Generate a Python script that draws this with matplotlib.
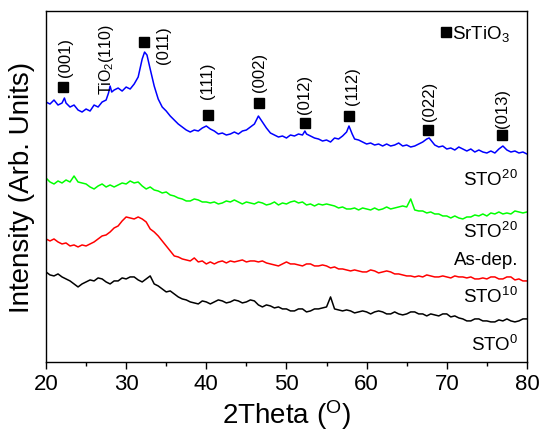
import numpy as np
import matplotlib.pyplot as plt
from matplotlib.ticker import MultipleLocator

plt.rcParams['font.family'] = ['Liberation Sans', 'DejaVu Sans']
plt.rcParams['mathtext.fontset'] = 'custom'
plt.rcParams['mathtext.rm'] = 'Liberation Sans'
plt.rcParams['mathtext.it'] = 'Liberation Sans'

# XRD scans, offset vertically (arbitrary units)
tt = np.arange(20, 80.5, 0.5)

sto20_ann_x = [20, 20.5, 21, 21.5, 22, 22.3, 22.5, 23, 23.5, 24, 24.5, 25, 25.5, 26, 26.5, 27, 27.5, 27.8,
               28, 28.2, 28.5, 29, 29.5, 30, 30.5, 31, 31.5, 32, 32.3, 32.6, 33, 33.5, 34, 34.5, 35,
               35.5, 36, 36.5, 37, 37.5, 38, 38.5, 39, 39.5, 40, 40.5, 41, 41.5, 42, 42.5, 43, 43.5,
               44, 44.5, 45, 45.5, 46, 46.5, 47, 47.5, 48, 48.5, 49, 49.5, 50, 50.5, 51, 51.5, 52,
               52.3, 52.5, 53, 53.5, 54, 54.5, 55, 55.5, 56, 56.5, 57, 57.5, 57.8, 58.2, 58.5, 59,
               59.5, 60, 60.5, 61, 61.5, 62, 62.5, 63, 63.5, 64, 64.5, 65, 65.5, 66, 66.5, 67, 67.5,
               67.8, 68.2, 68.5, 69, 69.5, 70, 70.5, 71, 71.5, 72, 72.5, 73, 73.5, 74, 74.5, 75, 75.5,
               76, 76.5, 77, 77.5, 78, 78.5, 79, 79.5, 80]
sto20_ann = [260, 258, 262, 257, 259, 264, 259, 255, 257, 252, 250, 253, 251, 257, 255, 260, 262, 269,
             276, 270, 272, 274, 271, 275, 273, 278, 285, 303, 310, 307, 293, 276, 263, 255, 251,
             246, 242, 238, 235, 232, 230, 232, 231, 234, 236, 233, 231, 228, 229, 227, 228, 230,
             228, 231, 232, 235, 238, 246, 240, 234, 229, 227, 225, 226, 224, 227, 226, 228, 227,
             231, 228, 226, 224, 223, 221, 222, 220, 224, 223, 226, 230, 236, 228, 223, 222,
             220, 218, 219, 217, 218, 216, 218, 216, 217, 219, 216, 217, 215, 216, 218, 220, 223,
             224, 220, 217, 215, 216, 213, 214, 212, 215, 213, 211, 213, 210, 212, 210, 209, 211,
             209, 213, 216, 212, 210, 211, 209, 210, 208]

sto20 = [184, 180, 178, 181, 179, 182, 180, 186, 180, 179, 178, 175, 173, 176, 178, 175, 177, 175,
         177, 179, 178, 181, 179, 180, 176, 173, 175, 172, 171, 169, 170, 167, 166, 164, 163, 161,
         161, 163, 162, 160, 160, 159, 160, 158, 159, 161, 160, 162, 160, 158, 160, 159, 158, 160,
         159, 157, 158, 160, 157, 159, 158, 160, 161, 159, 160, 157, 158, 156, 158, 157, 158, 157,
         156, 154, 155, 153, 153, 154, 152, 154, 153, 152, 154, 152, 153, 155, 153, 154, 155, 156,
         155, 163, 152, 151, 151, 149, 150, 148, 148, 146, 146, 144, 146, 144, 143, 145, 145, 147,
         146, 148, 146, 149, 148, 150, 148, 149, 148, 151, 150, 149, 150]

asdep = [123, 121, 123, 120, 118, 119, 116, 117, 115, 117, 116, 118, 120, 123, 126, 127, 130, 134,
         136, 141, 145, 144, 143, 145, 143, 140, 133, 130, 126, 121, 116, 111, 106, 105, 103, 102,
         101, 104, 100, 101, 98, 100, 98, 100, 101, 99, 101, 100, 101, 102, 100, 101, 101, 100,
         101, 99, 98, 97, 96, 98, 100, 98, 98, 97, 96, 98, 98, 96, 96, 97, 96, 94,
         95, 93, 93, 92, 91, 92, 91, 90, 90, 92, 91, 89, 90, 91, 90, 88, 88, 87,
         86, 86, 85, 86, 85, 87, 86, 85, 85, 86, 85, 84, 86, 85, 85, 84, 85, 83,
         83, 84, 83, 85, 85, 83, 83, 85, 85, 82, 83, 81, 81]

sto10 = [90, 87, 86, 88, 85, 83, 81, 78, 75, 78, 80, 82, 81, 84, 83, 80, 78, 81,
         81, 84, 83, 85, 85, 82, 80, 83, 86, 78, 76, 73, 70, 71, 68, 65, 63, 62,
         60, 59, 58, 61, 60, 58, 60, 62, 61, 59, 60, 62, 61, 59, 60, 62, 61, 57,
         55, 57, 56, 54, 55, 53, 53, 51, 51, 53, 53, 50, 51, 53, 53, 54, 55, 65,
         53, 52, 51, 52, 51, 49, 50, 51, 50, 48, 50, 51, 50, 48, 48, 50, 48, 47,
         48, 50, 50, 48, 48, 46, 48, 47, 46, 48, 48, 45, 46, 44, 43, 41, 41, 43,
         43, 41, 41, 40, 40, 42, 41, 43, 41, 40, 41, 43, 43]

# SrTiO3 reflections: (label, marker position, label position)
hkl = ['(001)', '(011)', '(111)', '(002)', '(012)', '(112)', '(022)', '(013)']
mark_x = [22.1, 32.2, 40.2, 46.6, 52.3, 57.8, 67.6, 76.9]
mark_y = [275, 320, 247, 259, 239, 246, 232, 227]
hkl_x = [22.4, 34.6, 40.2, 46.6, 52.3, 58.2, 67.8, 77.0]
hkl_y = [306, 318, 282, 291, 269, 277, 262, 255]

fig = plt.figure(figsize=(5.41, 4.31), dpi=100)
ax = fig.add_axes([0.085, 0.158, 0.889, 0.814])

ax.plot(tt, sto10, color='black', lw=1.1)
ax.plot(tt, asdep, color='#ff0000', lw=1.1)
ax.plot(tt, sto20, color='#00ff00', lw=1.1)
ax.plot(sto20_ann_x, sto20_ann, color='#0000ff', lw=1.1)

ax.plot(mark_x, mark_y, 's', color='black', ms=7, ls='none')
for lab, x, y in zip(hkl, hkl_x, hkl_y):
    ax.text(x, y, lab, rotation=90, ha='center', va='center', fontsize=12)
ax.text(27.6, 304, 'TiO$_2$(110)', rotation=90, ha='center', va='center', fontsize=11.5)

ax.plot([69.9], [330], 's', color='black', ms=7)
ax.text(70.6, 329, 'SrTiO$_3$', ha='left', va='center', fontsize=13.5)

# sample names
names = ['STO$^{20}$', 'STO$^{20}$', 'As-dep.', 'STO$^{10}$', 'STO$^{0}$']
name_y = [183, 131, 102, 66, 18]
for lab, y in zip(names, name_y):
    ax.text(78.9, y, lab, ha='right', va='center', fontsize=13.5)

ax.set_xlim(20, 80)
ax.set_ylim(0, 351)
ax.xaxis.set_major_locator(MultipleLocator(10))
ax.xaxis.set_minor_locator(MultipleLocator(5))
ax.tick_params(axis='x', which='major', direction='out', length=5, width=1, labelsize=16, pad=3)
ax.tick_params(axis='x', which='minor', direction='out', length=3, width=1)
ax.set_yticks([])
for s in ax.spines.values():
    s.set_linewidth(1.0)

ax.set_xlabel('2Theta ($^{\\mathrm{O}}$)', fontsize=20, labelpad=2)
ax.set_ylabel('Intensity (Arb. Units)', fontsize=20, labelpad=8)

plt.savefig('out.png', dpi=100)
